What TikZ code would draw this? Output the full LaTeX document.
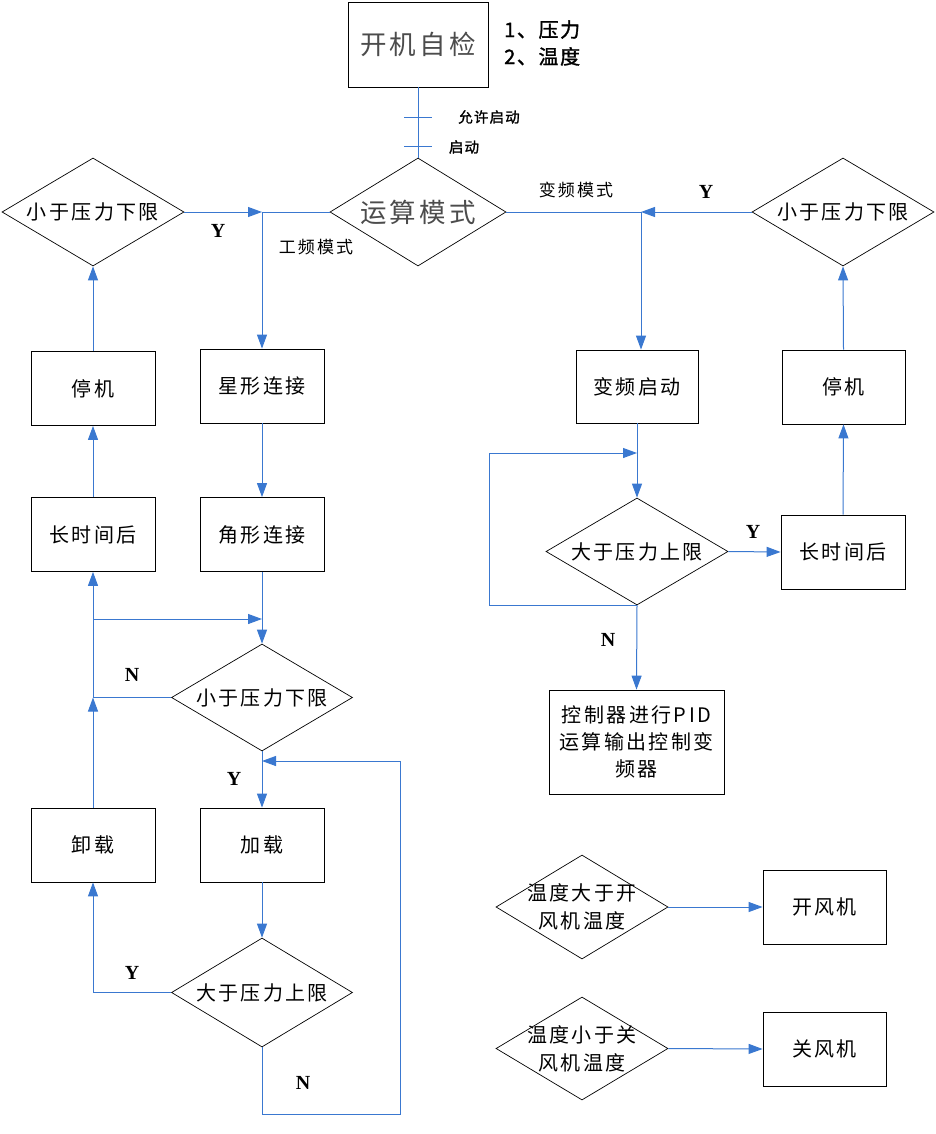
\documentclass[tikz,border=0pt]{standalone}
\usepackage{fontspec}
\setmainfont{Liberation Serif}
\newfontfamily\cjk[LetterSpace=12]{Noto Sans CJK SC}
\newfontfamily\cjkbold[LetterSpace=8,FakeBold=1.5]{Noto Sans CJK SC}
\usetikzlibrary{shapes.geometric,arrows.meta}
\definecolor{lineblue}{RGB}{58,120,208}
\begin{document}
\begin{tikzpicture}[x=1pt,y=-1pt,
 box/.style={draw,line width=0.8pt,rectangle,minimum width=124pt,minimum height=74pt,inner sep=0pt,font=\cjk\fontsize{20}{24}\selectfont},
 dia/.style={draw,line width=0.7pt,diamond,inner sep=0pt,minimum width=182pt,minimum height=108pt},
 dtext/.style={font=\cjk\fontsize{20}{28}\selectfont,align=center},
 conn/.style={draw=lineblue,line width=1pt},
 arr/.style={conn,-{Triangle[length=14pt,width=10pt]}},
 yn/.style={font=\bfseries\fontsize{20}{22}\selectfont},
 lbl/.style={font=\cjk\fontsize{17}{20}\selectfont},
]
\useasboundingbox (0,0) rectangle (936,1134);

% top
\node[box,minimum width=140pt,minimum height=85pt,font=\cjk\fontsize{26.5}{30}\selectfont,text=black!70] (self) at (418,44.5) {开机自检};
\node[font=\cjkbold\fontsize{20}{27}\selectfont,align=left,anchor=west,inner sep=0pt] (note) at (504,43) {1、压力\\2、温度};

\node[dia,minimum width=176pt,label={[font=\cjk\fontsize{26.5}{30}\selectfont,text=black!70]center:运算模式}] (calc) at (418,212) {};
\coordinate (t1) at (418,118);
\coordinate (t2) at (418,147);
\draw[conn] (self.south) -- (calc.north);
\draw[conn] ([xshift=-14pt]t1) -- ([xshift=14pt]t1);
\draw[conn] ([xshift=-14pt]t2) -- ([xshift=14pt]t2);
\node[font=\cjkbold\fontsize{14.5}{16}\selectfont] (allow) at (489,117) {允许启动};
\node[font=\cjkbold\fontsize{14.5}{16}\selectfont] (start) at (464,147) {启动};

% diamonds top row
\node[dia,label={[dtext]center:小于压力下限}] (L1) at (93,212) {};
\node[dia,label={[dtext]center:小于压力下限}] (R1) at (843,212) {};
\coordinate (jL) at (262,212);
\coordinate (jR) at (641,212);
\draw[conn] (calc.west) -- (jL);
\draw[arr] (L1.east) -- (jL);
\draw[conn] (calc.east) -- (jR);
\draw[arr] (R1.west) -- (jR);

% left column boxes
\node[box] (star) at (262,386) {星形连接};
\node[box] (delta) at (262,534.5) {角形连接};
\node[box] (load) at (262,845) {加载};
\node[box] (stop1) at (93,388.5) {停机};
\node[box] (long1) at (93,534.5) {长时间后};
\node[box] (unload) at (93,845) {卸载};
\node[dia,minimum width=181pt,minimum height=107pt,label={[dtext]center:小于压力下限}] (M1) at (262,697.5) {};
\node[dia,minimum width=181pt,minimum height=109pt,label={[dtext]center:大于压力上限}] (M2) at (262,992.5) {};

\draw[arr] (jL) -- (star.north);
\draw[arr] (star.south) -- (delta.north);
\draw[arr] (delta.south) -- (M1.north);
\coordinate (a1) at (93,619);
\coordinate (a2) at (93,697.5);
\draw[arr] (a1) -- (a1 -| M1.north);
\draw[conn] (M1.west) -- (a2);
\draw[arr] (unload.north) -- (a2);
\draw[arr] (a2) -- (long1.south);
\draw[arr] (long1.north) -- (stop1.south);
\draw[arr] (stop1.north) -- (L1.south);
\draw[arr] (M1.south) -- (load.north);
\draw[arr] (load.south) -- (M2.north);
\draw[arr] (M2.west) -| (unload.south);
\coordinate (b1) at (262,761);
\coordinate (b2) at (400,1114);
\draw[arr] (M2.south) |- (b2) |- (b1);

% right column
\node[box,minimum width=122pt,minimum height=73pt] (vstart) at (637,386.5) {变频启动};
\node[dia,minimum height=107pt,label={[dtext]center:大于压力上限}] (R2) at (637,551.5) {};
\node[box,minimum width=175pt,minimum height=104pt,align=center,font=\cjk\fontsize{20}{27}\selectfont] (pid) at (636.5,742) {控制器进行PID\\运算输出控制变\\频器};
\node[box] (long2) at (843,552) {长时间后};
\node[box,minimum width=123pt] (stop2) at (843.5,387) {停机};

\draw[arr] (jR) -- (jR |- vstart.north);
\draw[arr] (vstart.south) -- (R2.north);
\coordinate (c1) at (637,453);
\coordinate (c2) at (489,453);
\draw[arr] (R2.south) -| (c2) -- (c1);
\draw[arr] (R2.south) -- (pid.north);
\draw[arr] (R2.east) -- (long2.west);
\draw[arr] (long2.north) -- (stop2.south);
\draw[arr] (stop2.north) -- (R1.south);

% temperature
\node[dia,minimum width=172pt,minimum height=104pt,label={[dtext]center:温度大于开\\风机温度}] (T1) at (582,907) {};
\node[dia,minimum width=172pt,minimum height=103pt,label={[dtext]center:温度小于关\\风机温度}] (T2) at (582,1048.5) {};
\node[box,minimum width=123pt] (fanon) at (824.5,907) {开风机};
\node[box,minimum width=123pt] (fanoff) at (824.5,1049) {关风机};
\draw[arr] (T1.east) -- (fanon.west);
\draw[arr] (T2.east) -- (fanoff.west);

% labels
\node[lbl] (lgp) at (316,247) {工频模式};
\node[lbl] (lbp) at (576,190) {变频模式};
\node[yn] (y1) at (218,231) {Y};
\node[yn] (y2) at (706,192) {Y};
\node[yn] (y3) at (234,779) {Y};
\node[yn] (n1) at (132,675) {N};
\node[yn] (y4) at (132,973) {Y};
\node[yn] (n2) at (303,1083) {N};
\node[yn] (n3) at (608,640) {N};
\node[yn] (y5) at (753,532) {Y};
\end{tikzpicture}
\end{document}
